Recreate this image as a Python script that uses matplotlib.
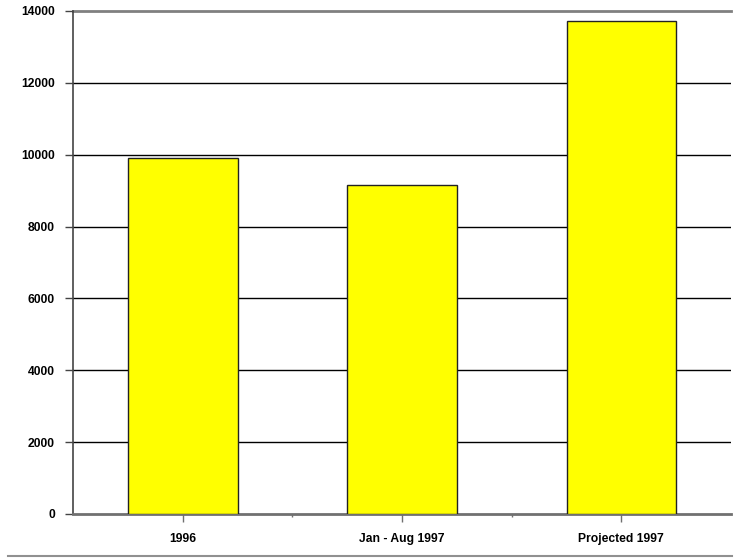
import matplotlib
matplotlib.use("Agg")
from matplotlib import pyplot as plt
from matplotlib.lines import Line2D

categories = ["1996", "Jan - Aug 1997", "Projected 1997"]
values = [9900, 9150, 13730]
yticks = [0, 2000, 4000, 6000, 8000, 10000, 12000, 14000]

plt.rcParams['font.family'] = ['Liberation Sans', 'DejaVu Sans']
plt.rcParams['font.weight'] = 'bold'

fig = plt.figure(figsize=(7.4, 5.58), dpi=100)
ax = fig.add_axes([73 / 740, 1 - 514 / 558, 658 / 740, 503 / 558])

xs = range(len(categories))
ax.bar(xs, values, width=0.5, color='#ffff00', edgecolor='#222222', linewidth=1, zorder=3)

ax.set_xlim(-0.5, 2.5)
ax.set_ylim(0, 14000)
ax.set_yticks(yticks)
ax.set_yticklabels([str(v) for v in yticks], fontsize=8.7, fontweight='bold')
ax.set_xticks(list(xs))
ax.set_xticklabels(categories, fontsize=8.7, fontweight='bold')
ax.set_xticks([0.5, 1.5], minor=True)

# horizontal gridlines, top one drawn gray like the frame
for v in yticks[1:-1]:
    ax.axhline(v, color='black', linewidth=1, zorder=1)
ax.axhline(14000, color='#808080', linewidth=2, zorder=1, clip_on=False)

for side in ['top', 'right']:
    ax.spines[side].set_visible(False)
ax.spines['left'].set_color('#444444')
ax.spines['left'].set_linewidth(1.2)
ax.spines['bottom'].set_color('#707070')
ax.spines['bottom'].set_linewidth(2)

ax.tick_params(axis='y', length=6, width=1, color='#444444', pad=7)
ax.tick_params(axis='x', which='major', length=6, width=1, color='#707070', pad=8)
ax.tick_params(axis='x', which='minor', length=2, width=1, color='#707070')

fig.add_artist(Line2D([8 / 740, 732 / 740], [1 - 556 / 558, 1 - 556 / 558],
                      color='#909090', linewidth=1.5))

fig.savefig("out.png", dpi=100)
